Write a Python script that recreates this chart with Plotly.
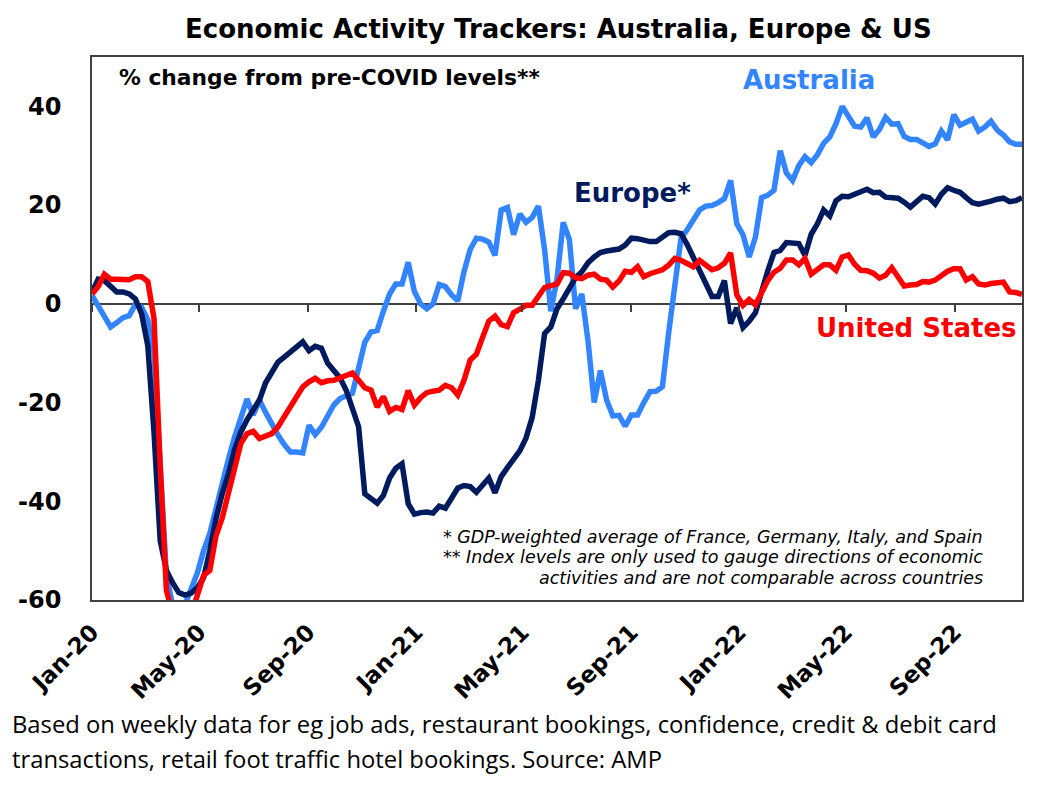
import plotly.graph_objects as go
import pandas as pd


# weekly readings, % change from pre-COVID levels
start_date = "2020-01-01"
n_weeks = 151

australia = [1.7, -0.5, -2.7, -4.7, -3.8, -2.8, -2.4, -0.1, -0.7, -3.2,
             -10, -35, -55, -61, -62, -61, -57.5, -54.5, -50, -46.5,
             -41.5, -36, -31.5, -27, -22.8, -19.3, -22.5, -19.5, -22, -24.5,
             -26.6, -28.5, -30, -30, -30.2, -24.6, -26.5, -25, -22.5, -20.5,
             -19.2, -18.7, -18.1, -13, -7.8, -5.7, -5.4, -1.5, 2.0, 4.0,
             4.0, 8.4, 2.5, 0, -1.0, 0, 3.9, 3.5, 1.8, 0.6,
             6.5, 11, 13.3, 13.1, 12.5, 9.8, 19, 19.5, 14, 18.2,
             16.5, 17.5, 19.8, 11, -1.5, 5, 16.5, 13, -1, 2,
             -7.5, -20, -13.5, -19.5, -22.7, -22.6, -24.8, -22.5, -22.5, -20,
             -17.8, -17.7, -16.8, -6, 3, 13.3, 15, 17, 19, 19.8,
             19.9, 20.5, 21.3, 25, 16.2, 14, 9.5, 13.5, 21.5, 22,
             23, 31, 26.5, 25, 28, 29.8, 28.6, 30.2, 32.5, 33.8,
             36.5, 40, 38, 36, 35.8, 37.7, 33.8, 35.3, 37.8, 36.4,
             36.5, 33.9, 33.3, 33.3, 32.6, 31.9, 32.4, 35, 33.2, 38.3,
             36.2, 36.8, 37.4, 35, 35.8, 37, 35.2, 34.2, 32.8, 32.3,
             32.3]

europe = [2.4, 5.0, 4.7, 3.7, 2.4, 2.4, 2.0, 1.0, -2.0, -8.5,
          -26, -48, -54, -56.5, -58.5, -59, -58.6, -57.5, -55.5, -50,
          -43.5, -38.5, -34.5, -29.5, -26, -23.5, -21.5, -19.5, -16, -13.8,
          -11.8, -10.8, -9.8, -8.5, -7.7, -9.5, -8.6, -9.0, -12.0, -13.5,
          -15.0, -17.5, -21, -24.9, -38.5, -39.5, -40.4, -38.8, -35.3, -33.3,
          -32.4, -40.5, -42.6, -42.3, -42.2, -42.4, -41, -41.4, -39.4, -37.3,
          -36.8, -37, -38.2, -36.8, -35.3, -38.3, -35, -33.2, -31.3, -29.8,
          -27.2, -23, -15.5, -6, -4.7, -1, 1, 3.3, 5.3, 6.5,
          8.3, 9.5, 10.4, 10.7, 10.9, 11.1, 11.9, 13.3, 13.2, 12.9,
          12.6, 12.6, 13.6, 14.4, 14.5, 14.2, 12, 9.5, 6.6, 4.5,
          1.5, 1.5, 4.7, -4, -0.8, -4.8, -3.5, -1.8, 3, 6.7,
          10.4, 10.8, 12.4, 12.4, 12.2, 9.8, 14.1, 16.2, 19, 17.8,
          20.9, 21.8, 21.7, 22.2, 22.8, 23.2, 22.5, 22.6, 21.6, 21.4,
          21.4, 20.6, 19.6, 20.7, 21.8, 21.5, 20.2, 22.2, 23.5, 23,
          22.6, 21.5, 20.5, 20.2, 20.4, 20.8, 21.2, 21.4, 20.7, 20.9,
          21.5]

united_states = [2.0, 3.5, 6.0, 5.0, 5.0, 5.0, 4.9, 5.5, 5.5, 4.5,
                 -3, -33, -58, -63, -65, -65, -63, -59, -55, -54,
                 -47, -43.4, -38.4, -33.3, -28.3, -26.3, -25.8, -27.3, -26.9, -26.3,
                 -24.9, -22.9, -20.9, -19.2, -16.8, -15.8, -15.1, -16, -15.6, -15.5,
                 -15, -14.5, -14, -15.5, -17, -17.5, -20.9, -18.8, -21.8, -21,
                 -21.4, -17.6, -20.5, -19, -18, -17.7, -17.5, -16.5, -17, -18.5,
                 -15.5, -11.4, -10.2, -6.8, -3.5, -2.5, -4.2, -4.6, -1.8, -1.1,
                 -0.3, -0.3, 1.5, 3.3, 3.7, 4, 6.3, 6.2, 5.3, 5.1,
                 5.8, 6, 5, 4.8, 3.4, 4.6, 6.6, 6.4, 7.5, 5.5,
                 6.1, 6.6, 6.9, 7.8, 9.2, 8.8, 8.2, 7.5, 8.8, 8,
                 6.9, 7.3, 8.2, 10.3, 1.8, -0.3, 0.9, -0.2, 2.1, 4.7,
                 6.4, 7.2, 8.9, 8.9, 7.9, 9.2, 6, 7, 7.9, 7.9,
                 6.8, 9.5, 9.9, 8, 6.8, 6.7, 6.2, 5.2, 5.8, 7.3,
                 5.5, 3.6, 3.8, 3.9, 4.5, 4.4, 4.8, 5.8, 6.6, 7.1,
                 7.1, 4.8, 5.5, 4, 3.8, 4.1, 4.3, 4.4, 2.4, 2.3,
                 1.9]

y_ticks = [-60, -40, -20, 0, 20, 40]
y_tick_text = ["-60", "-40", "-20", "0", "20", "40"]

footnotes = ["* GDP-weighted average of France, Germany, Italy, and Spain",
             "** Index levels are only used to gauge directions of economic",
             "activities and are not comparable across countries"]
source_lines = ["Based on weekly data for eg job ads, restaurant bookings, confidence, credit & debit card",
                "transactions, retail foot traffic hotel bookings. Source: AMP"]

colors = ['#3385FF', '#001A5E', '#FF0000', '#404040', '#000000']
font_bold = "DejaVu Sans, Liberation Sans, Arial, sans-serif"
font_note = "Open Sans, Lato, sans-serif"

dates = pd.date_range(start_date, periods=n_weeks, freq="7D")

fig = go.Figure()

fig.add_trace(go.Scatter(x=dates, y=australia, name="Australia", mode="lines",
                         line=dict(color=colors[0], width=5.5)))
fig.add_trace(go.Scatter(x=dates, y=europe, name="Europe*", mode="lines",
                         line=dict(color=colors[1], width=5.5)))
fig.add_trace(go.Scatter(x=dates, y=united_states, name="United States", mode="lines",
                         line=dict(color=colors[2], width=5.5)))

# empty trace so the tick axis on the zero line gets drawn
fig.add_trace(go.Scatter(x=dates[:1], y=[0], xaxis="x2", mode="lines",
                         hoverinfo="skip", showlegend=False))

x_range = [dates[0], dates[-1]]

fig.update_layout(
    autosize=False,
    width=1054,
    height=799,
    paper_bgcolor="white",
    plot_bgcolor="white",
    showlegend=False,
    margin=dict(l=92, r=32, t=57, b=199, pad=0),
    font=dict(family=font_bold, color=colors[4]),

    xaxis=dict(
        range=x_range,
        tickformat="%b-%y",
        dtick="M4",
        tick0="2020-01-01",
        tickangle=-45,
        ticks="outside",
        ticklen=8,
        tickcolor="rgba(0,0,0,0)",
        tickfont=dict(size=23, weight="bold"),
        showgrid=False,
        zeroline=False,
        showline=True,
        mirror=True,
        linecolor=colors[3],
        linewidth=1.5,
    ),
    xaxis2=dict(
        range=x_range,
        overlaying="x",
        anchor="free",
        position=60 / 110,
        dtick="M4",
        tick0="2020-01-01",
        ticks="outside",
        ticklen=7,
        tickwidth=1.5,
        tickcolor=colors[3],
        showticklabels=False,
        showgrid=False,
        zeroline=False,
        showline=False,
    ),
    yaxis=dict(
        range=[-60, 50],
        tickvals=y_ticks,
        ticktext=y_tick_text,
        ticks="outside",
        ticklen=24,
        tickcolor="rgba(0,0,0,0)",
        tickfont=dict(size=24, weight="bold"),
        showgrid=False,
        zeroline=True,
        zerolinecolor=colors[3],
        zerolinewidth=1.5,
        showline=True,
        mirror=True,
        linecolor=colors[3],
        linewidth=1.5,
    ),
)

# title and in-chart labels
fig.add_annotation(x=0.502, y=1.052, xref="paper", yref="paper", showarrow=False,
                   text="<b>Economic Activity Trackers: Australia, Europe & US</b>",
                   font=dict(size=26), xanchor="center", yanchor="middle")
fig.add_annotation(x=0.027, y=0.962, xref="paper", yref="paper", showarrow=False,
                   text="<b>% change from pre-COVID levels**</b>",
                   font=dict(size=21.8), xanchor="left", yanchor="middle")
fig.add_annotation(x=0.771, y=0.957, xref="paper", yref="paper", showarrow=False,
                   text="<b>Australia</b>", font=dict(size=26, color=colors[0]),
                   xanchor="center", yanchor="middle")
fig.add_annotation(x=0.581, y=0.749, xref="paper", yref="paper", showarrow=False,
                   text="<b>Europe*</b>", font=dict(size=26, color=colors[1]),
                   xanchor="center", yanchor="middle")
fig.add_annotation(x=0.887, y=0.501, xref="paper", yref="paper", showarrow=False,
                   text="<b>United States</b>", font=dict(size=26, color=colors[2]),
                   xanchor="center", yanchor="middle")

# footnotes inside the plot, one line each
for line, y_pos in zip(footnotes, [0.1169, 0.0791, 0.0414]):
    fig.add_annotation(x=0.9597, y=y_pos, xref="paper", yref="paper", showarrow=False,
                       text="<i>" + line + "</i>", font=dict(size=17.5),
                       xanchor="right", yanchor="middle")

# source note below the chart
for line, y_pos in zip(source_lines, [-0.2282, -0.2927]):
    fig.add_annotation(x=-0.088, y=y_pos, xref="paper", yref="paper", showarrow=False,
                       text=line, font=dict(size=23.8, family=font_note),
                       xanchor="left", yanchor="middle")

fig.write_html("out.html", config={"displayModeBar": False},
               post_script="document.body.style.margin = '0px';")
